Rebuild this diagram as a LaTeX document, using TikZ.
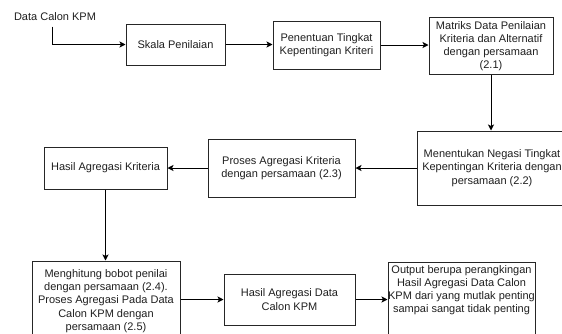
\documentclass[tikz,border=0pt]{standalone}
\usepackage{fontspec}
\setmainfont{Liberation Sans}
\usetikzlibrary{arrows.meta}
\begin{document}
\begin{tikzpicture}[x=1pt,y=-1pt,
  every node/.style={font=\fontsize{11}{13.2}\selectfont, text=black!88},
  box/.style={draw=black!85, line width=1pt, inner sep=0pt, align=center},
  conn/.style={draw=black, line width=1pt, -{Stealth[length=6pt,width=6pt,inset=1.5pt]}}]
\useasboundingbox (0,0) rectangle (562,333);
\clip (0,0) rectangle (562,333);
\node (src) at (55,17) {Data Calon KPM};
\node[box, minimum width=99pt, minimum height=41pt] (skala) at (175.5,44.5) {Skala Penilaian};
\node[box, minimum width=107pt, minimum height=48pt] (penentuan) at (326.5,45) {Penentuan Tingkat\\Kepentingan Kriteri};
\node[box, minimum width=124pt, minimum height=57pt] (matriks) at (491,46) {Matriks Data Penilaian\\Kriteria dan Alternatif\\dengan persamaan\\(2.1)};
\node[box, minimum width=150pt, minimum height=74pt] (menentukan) at (492,168) {Menentukan Negasi Tingkat\\Kepentingan Kriteria dengan\\persamaan (2.2)};
\node[box, minimum width=147pt, minimum height=58pt] (proses) at (281.5,168) {Proses Agregasi Kriteria\\dengan persamaan (2.3)};
\node[box, minimum width=123pt, minimum height=42pt] (hasilk) at (105.5,168) {Hasil Agregasi Kriteria};
\node[box, minimum width=148pt, minimum height=80pt] (menghitung) at (106,301) {Menghitung bobot penilai\\dengan persamaan (2.4).\\Proses Agregasi Pada Data\\Calon KPM dengan\\persamaan (2.5)};
\node[box, minimum width=131pt, minimum height=51pt] (hasild) at (289.5,299.5) {Hasil Agregasi Data\\Calon KPM};
\node[box, minimum width=147pt, minimum height=84pt] (output) at (461.5,304) {};
\node[align=center, inner sep=0pt] (outtext) at (461.5,290) {Output berupa perangkingan\\Hasil Agregasi Data Calon\\KPM dari yang mutlak penting\\sampai sangat tidak penting};
\draw[conn] ([xshift=-3pt,yshift=-2pt]src.south) |- (skala.west);
\draw[conn] (skala.east) -- (skala.east -| penentuan.west);
\draw[conn] (penentuan.east) -- (penentuan.east -| matriks.west);
\draw[conn] (matriks.south) -- (matriks.south |- menentukan.north);
\draw[conn] (menentukan.west) -- (menentukan.west -| proses.east);
\draw[conn] (proses.west) -- (proses.west -| hasilk.east);
\draw[conn] (hasilk.south) -- (hasilk.south |- menghitung.north);
\draw[conn] (menghitung.east |- hasild.west) -- (hasild.west);
\draw[conn] (hasild.east) -- (hasild.east -| output.west);
\end{tikzpicture}
\end{document}
